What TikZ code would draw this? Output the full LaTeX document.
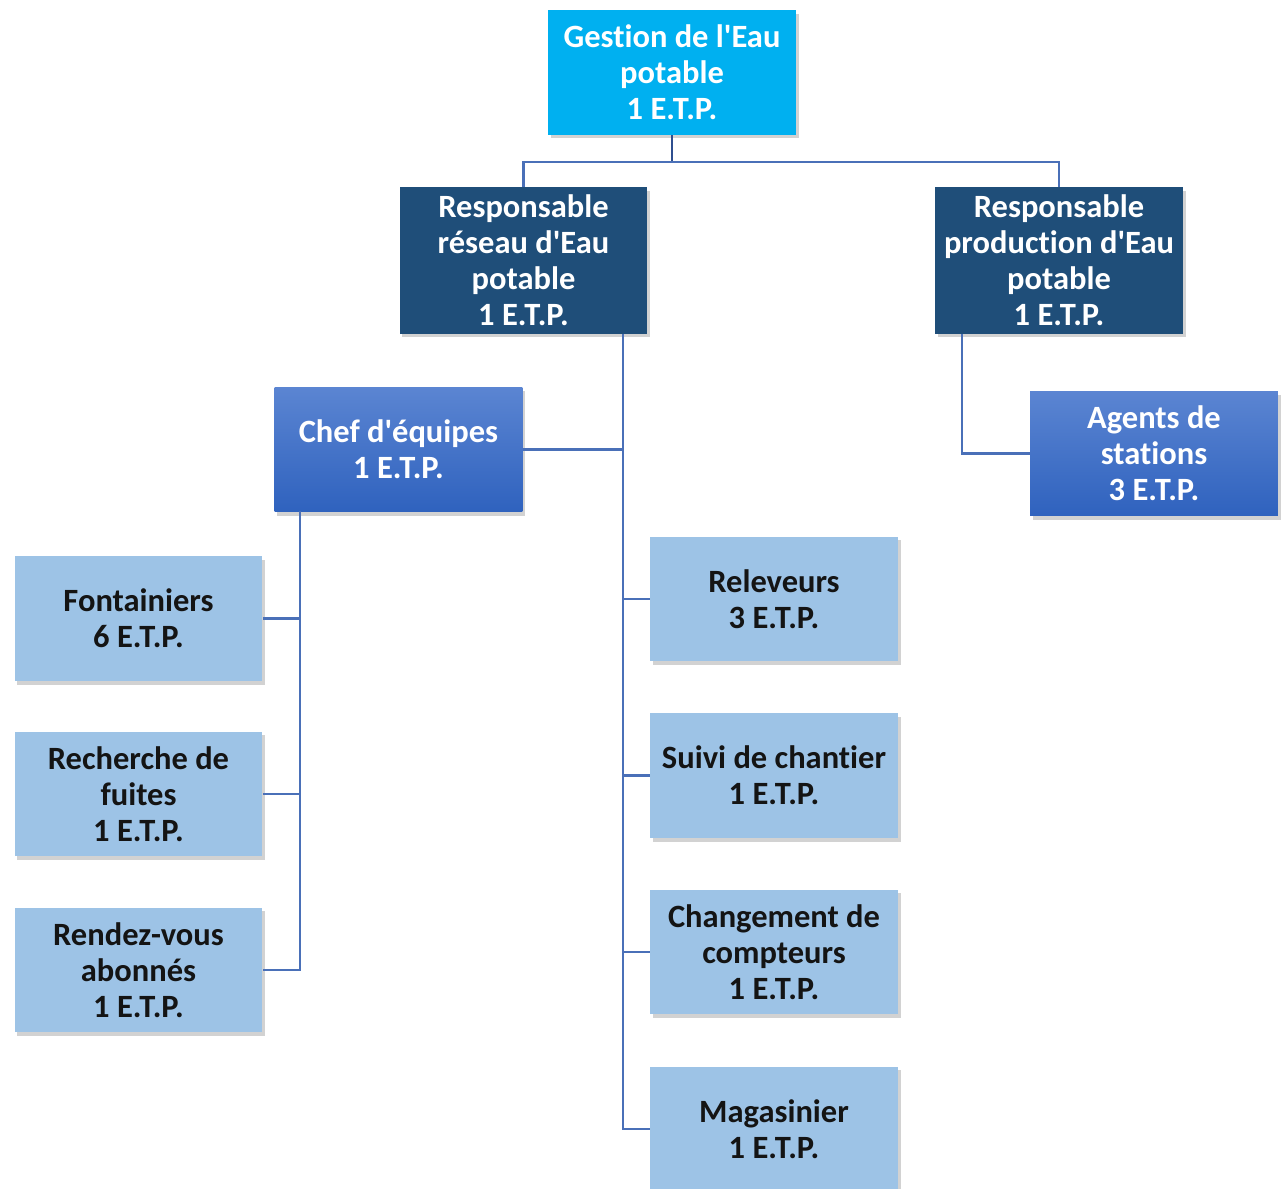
\documentclass[tikz,border=0pt]{standalone}
\usepackage{fontspec}
\newfontfamily\boxfont[Ligatures=NoCommon]{Carlito}
\usetikzlibrary{shadows}
\definecolor{cyanbox}{HTML}{00B0F0}
\definecolor{navybox}{HTML}{1F4E79}
\definecolor{midtop}{HTML}{5B85D2}
\definecolor{midbot}{HTML}{2F62BE}
\definecolor{lightbox}{HTML}{9DC3E6}
\definecolor{linecol}{HTML}{4A70B8}
\definecolor{linedark}{HTML}{2F4F8F}
\tikzset{
  x=0.02cm, y=-0.02cm,
  box/.style={rectangle, minimum width=4.96cm, minimum height=2.5cm, inner sep=0pt,
    align=center, font=\boxfont\fontsize{18.5}{20.5}\selectfont\bfseries,
    drop shadow={opacity=0.35, shadow xshift=1.5pt, shadow yshift=-2pt}},
  topbox/.style={box, fill=cyanbox, text=white},
  respbox/.style={box, fill=navybox, text=white, minimum height=2.94cm},
  midbox/.style={box, top color=midtop, bottom color=midbot, text=white},
  leafbox/.style={box, fill=lightbox, text=black!92},
  conn/.style={draw=linecol, line width=1.3pt},
}
\begin{document}
\begin{tikzpicture}
\useasboundingbox[fill=white] (0,0) rectangle (1287,1189);
% nodes
\node[topbox] (top) at (672,72.5) {Gestion de l'Eau\\potable\\1 E.T.P.};
\node[respbox] (rr) at (523.5,260.5) {Responsable\\réseau d'Eau\\potable\\1 E.T.P.};
\node[respbox] (rp) at (1059,260.5) {Responsable\\production d'Eau\\potable\\1 E.T.P.};
\node[midbox] (chef) at (398.5,449.5) {Chef d'équipes\\1 E.T.P.};
\node[midbox] (ag) at (1154,453.5) {Agents de\\stations\\3 E.T.P.};
\node[leafbox] (fon) at (138.5,618.5) {Fontainiers\\6 E.T.P.};
\node[leafbox] (rech) at (138.5,794) {Recherche de\\fuites\\1 E.T.P.};
\node[leafbox] (rdv) at (138.5,970) {Rendez-vous\\abonnés\\1 E.T.P.};
\node[leafbox] (rel) at (774,599) {Releveurs\\3 E.T.P.};
\node[leafbox] (suivi) at (774,775.5) {Suivi de chantier\\1 E.T.P.};
\node[leafbox] (chg) at (774,952) {Changement de\\compteurs\\1 E.T.P.};
\node[leafbox] (mag) at (774,1129) {Magasinier\\1 E.T.P.};
% connectors
\coordinate (j) at (672,162);
\draw[conn, draw=linedark] (top.south) -- (j);
\draw[conn] (j) -| (rr.north);
\draw[conn] (j) -| (rp.north);
\coordinate (rs) at (623,334);
\draw[conn] (rs) |- (mag.west);
\draw[conn] (chef.east) -- (chef.east -| rs);
\draw[conn] (rel.west) -- (rel.west -| rs);
\draw[conn] (suivi.west) -- (suivi.west -| rs);
\draw[conn] (chg.west) -- (chg.west -| rs);
\coordinate (cs) at (300,511);
\draw[conn] (cs) |- (rdv.east);
\draw[conn] (fon.east) -- (fon.east -| cs);
\draw[conn] (rech.east) -- (rech.east -| cs);
\coordinate (ps) at (962,334);
\draw[conn] (ps) |- (ag.west);
\end{tikzpicture}
\end{document}
